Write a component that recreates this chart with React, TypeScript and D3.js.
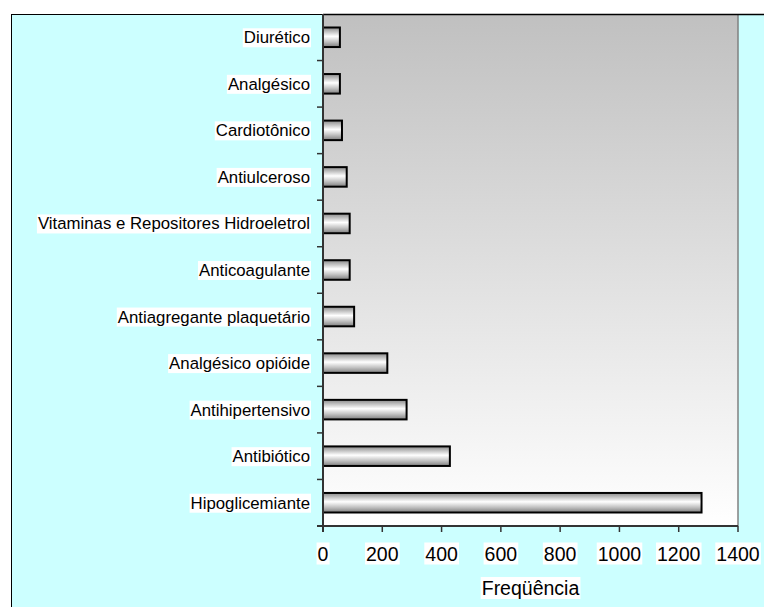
import React, { useEffect, useRef } from "react";
import * as d3 from "d3";

// Drug classes, top to bottom
const categories = [
  "Diurético",
  "Analgésico",
  "Cardiotônico",
  "Antiulceroso",
  "Vitaminas e Repositores Hidroeletrol",
  "Anticoagulante",
  "Antiagregante plaquetário",
  "Analgésico opióide",
  "Antihipertensivo",
  "Antibiótico",
  "Hipoglicemiante",
];
const frequencies = [57, 57, 64, 80, 90, 90, 105, 217, 282, 428, 1277];
const xTicks = [0, 200, 400, 600, 800, 1000, 1200, 1400];
const xTitle = "Freqüência";

const W = 764;
const H = 607;
const FONT = "'Liberation Sans', Arial, sans-serif";

export default function App() {
  const ref = useRef<SVGSVGElement>(null);

  useEffect(() => {
    const svg = d3.select(ref.current);
    svg.selectAll("*").remove();

    const plot = { left: 323, right: 738, top: 14, bottom: 526 };

    const x = d3.scaleLinear().domain([0, 1400]).range([plot.left, plot.right]);
    const y = d3
      .scaleBand<string>()
      .domain(categories)
      .range([plot.top, plot.bottom])
      .paddingInner(0.58)
      .paddingOuter(0.29);
    const band = d3.scaleBand<string>().domain(categories).range([plot.top, plot.bottom]);

    const defs = svg.append("defs");
    const pg = defs
      .append("linearGradient")
      .attr("id", "plotBg")
      .attr("x1", 0)
      .attr("y1", 0)
      .attr("x2", 0)
      .attr("y2", 1);
    pg.append("stop").attr("offset", "0%").attr("stop-color", "#c0c0c0");
    pg.append("stop").attr("offset", "100%").attr("stop-color", "#ffffff");

    const bg = defs
      .append("linearGradient")
      .attr("id", "barFill")
      .attr("x1", 0)
      .attr("y1", 0)
      .attr("x2", 0)
      .attr("y2", 1);
    [
      ["0%", "#8a8a8a"],
      ["18%", "#b8b8b8"],
      ["45%", "#ffffff"],
      ["72%", "#c4c4c4"],
      ["100%", "#7e7e7e"],
    ].forEach(([o, c]) => bg.append("stop").attr("offset", o).attr("stop-color", c));

    // chart area
    svg
      .append("rect")
      .attr("x", 11.5)
      .attr("y", 14.5)
      .attr("width", W)
      .attr("height", H)
      .attr("fill", "#ccffff")
      .attr("stroke", "#000")
      .attr("stroke-width", 1);

    // plot area
    svg
      .append("rect")
      .attr("x", plot.left)
      .attr("y", plot.top)
      .attr("width", plot.right - plot.left)
      .attr("height", plot.bottom - plot.top)
      .attr("fill", "url(#plotBg)");
    svg
      .append("line")
      .attr("x1", plot.right)
      .attr("x2", plot.right)
      .attr("y1", plot.top)
      .attr("y2", plot.bottom)
      .attr("stroke", "#808080")
      .attr("stroke-width", 1.5);
    svg
      .append("line")
      .attr("x1", plot.left)
      .attr("x2", W)
      .attr("y1", plot.top + 0.5)
      .attr("y2", plot.top + 0.5)
      .attr("stroke", "#000")
      .attr("stroke-width", 1.5);

    // bars
    svg
      .append("g")
      .selectAll("rect")
      .data(categories)
      .join("rect")
      .attr("x", x(0))
      .attr("y", (d) => y(d)!)
      .attr("width", (d, i) => x(frequencies[i]) - x(0))
      .attr("height", y.bandwidth())
      .attr("fill", "url(#barFill)")
      .attr("stroke", "#000")
      .attr("stroke-width", 2);

    // axes lines
    const axisColor = "#333";
    svg
      .append("line")
      .attr("x1", plot.left)
      .attr("x2", plot.left)
      .attr("y1", plot.top)
      .attr("y2", plot.bottom + 6)
      .attr("stroke", axisColor)
      .attr("stroke-width", 2);
    svg
      .append("line")
      .attr("x1", plot.left - 6)
      .attr("x2", plot.right)
      .attr("y1", plot.bottom)
      .attr("y2", plot.bottom)
      .attr("stroke", axisColor)
      .attr("stroke-width", 2);

    // category boundary ticks
    const bounds = categories.slice(1).map((c) => band(c)!);
    svg
      .append("g")
      .selectAll("line")
      .data(bounds)
      .join("line")
      .attr("x1", plot.left - 6)
      .attr("x2", plot.left)
      .attr("y1", (d) => d)
      .attr("y2", (d) => d)
      .attr("stroke", axisColor)
      .attr("stroke-width", 1.5);

    // value ticks
    svg
      .append("g")
      .selectAll("line")
      .data(xTicks)
      .join("line")
      .attr("x1", (d) => x(d))
      .attr("x2", (d) => x(d))
      .attr("y1", plot.bottom)
      .attr("y2", plot.bottom + 6)
      .attr("stroke", axisColor)
      .attr("stroke-width", 1.5);

    // text with white backing boxes
    const labelWithBox = (
      g: d3.Selection<SVGGElement, unknown, null, undefined>,
      text: string,
      tx: number,
      ty: number,
      anchor: string,
      size: number
    ) => {
      const t = g
        .append("text")
        .attr("x", tx)
        .attr("y", ty)
        .attr("text-anchor", anchor)
        .attr("font-family", FONT)
        .attr("font-size", size)
        .attr("fill", "#000")
        .text(text);
      const b = (t.node() as SVGTextElement).getBBox();
      g.insert("rect", () => t.node())
        .attr("x", b.x - 1)
        .attr("y", b.y)
        .attr("width", b.width + 2)
        .attr("height", b.height)
        .attr("fill", "#fff");
    };

    const yl = svg.append("g");
    categories.forEach((c) => {
      labelWithBox(yl, c, 310, band(c)! + band.bandwidth() / 2 + 6, "end", 16.8);
    });

    const xl = svg.append("g");
    xTicks.forEach((t) => {
      labelWithBox(xl, String(t), x(t), 560.5, "middle", 19.5);
    });

    labelWithBox(svg.append("g"), xTitle, (plot.left + plot.right) / 2, 595, "middle", 19.5);
  }, []);

  return (
    <svg
      ref={ref}
      width={W}
      height={H}
      style={{ display: "block", position: "absolute", left: 0, top: 0 }}
    />
  );
}
